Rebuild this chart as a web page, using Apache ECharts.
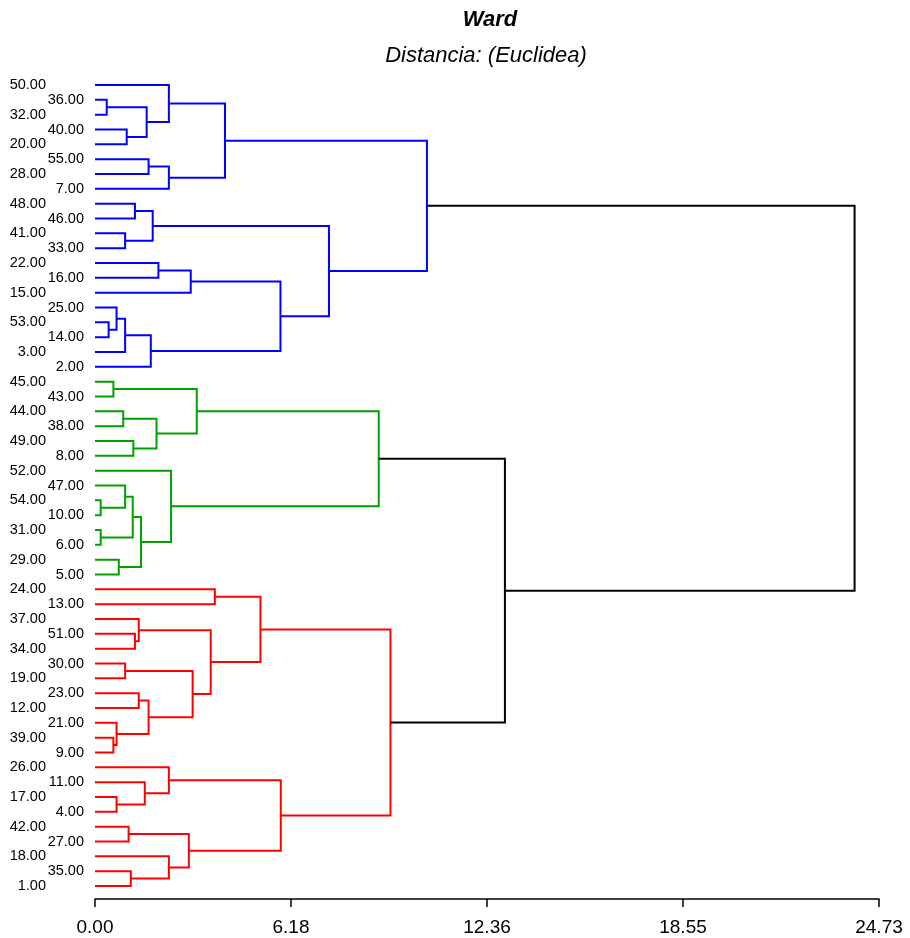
<!DOCTYPE html>
<html>
<head>
<meta charset="utf-8">
<script src="https://cdn.jsdelivr.net/npm/echarts@6/dist/echarts.min.js"></script>
<style>html,body{margin:0;padding:0;background:#fff}#chart{width:910px;height:938px}</style>
</head>
<body>
<div id="chart"></div>
<script>
// Leaves in display order (top to bottom)
const leaves = ['50.00','36.00','32.00','40.00','20.00','55.00','28.00','7.00','48.00','46.00',
  '41.00','33.00','22.00','16.00','15.00','25.00','53.00','14.00','3.00','2.00',
  '45.00','43.00','44.00','38.00','49.00','8.00','52.00','47.00','54.00','10.00',
  '31.00','6.00','29.00','5.00','24.00','13.00','37.00','51.00','34.00','30.00',
  '19.00','23.00','12.00','21.00','39.00','9.00','26.00','11.00','17.00','4.00',
  '42.00','27.00','18.00','35.00','1.00'];
// Linkage pairs: ids < 55 are leaves, id 55+k is merge k
const merges = [
  [1,2],[3,4],[55,56],[0,57],[5,6],[59,7],[58,60],[8,9],[10,11],[62,63],[12,13],[65,14],[16,17],[15,67],[68,18],[69,19],[66,70],[64,71],[61,72],
  [20,21],[22,23],[24,25],[75,76],[74,77],[28,29],[27,79],[30,31],[80,81],[32,33],[82,83],[26,84],[78,85],
  [34,35],[37,38],[36,88],[39,40],[41,42],[44,45],[43,92],[91,93],[90,94],[89,95],[87,96],[48,49],[47,98],[46,99],[50,51],[53,54],[52,102],[101,103],[100,104],[97,105],
  [86,106],[73,107]
];
// Merge heights (distance), same order as merges
const mergeH = [0.37,1.00,1.63,2.33,1.69,2.33,4.10,1.26,0.95,1.82,2.00,3.02,0.43,0.68,0.95,1.76,5.85,7.38,10.47,
  0.58,0.89,1.21,1.94,3.21,0.18,0.95,0.18,1.19,0.75,1.45,2.40,8.95,
  3.78,1.26,1.38,0.95,1.38,0.58,0.68,1.69,3.08,3.65,5.22,0.68,1.57,2.33,1.06,1.13,2.33,2.96,5.86,9.32,
  12.93,23.96];
const xTickLabels = ['0.00','6.18','12.36','18.55','24.73'];
const xMax = 24.73;
const groupColors = ['#0000ff','#00a000','#ff0000'];
const colorCut = 11;

const N = leaves.length;
const pos = [], hgt = [], parent = [];
for (let i = 0; i < N; i++) { pos[i] = i; hgt[i] = 0; }
merges.forEach((m, k) => {
  const id = N + k;
  pos[id] = (pos[m[0]] + pos[m[1]]) / 2;
  hgt[id] = mergeH[k];
  parent[m[0]] = id; parent[m[1]] = id;
});
const groupRoots = [];
merges.forEach((m, k) => {
  const id = N + k;
  if (hgt[id] < colorCut && (parent[id] === undefined || hgt[parent[id]] >= colorCut)) groupRoots.push(id);
});
groupRoots.sort((a, b) => pos[a] - pos[b]);
function colorOf(id) {
  if (hgt[id] >= colorCut) return '#000000';
  let c = id;
  while (parent[c] !== undefined && hgt[parent[c]] < colorCut) c = parent[c];
  return groupColors[groupRoots.indexOf(c) % groupColors.length];
}
const linkData = merges.map((m, k) => {
  const id = N + k, a = m[0], b = m[1];
  return {
    coords: [[hgt[a], pos[a]], [hgt[id], pos[a]], [hgt[id], pos[b]], [hgt[b], pos[b]]],
    lineStyle: { color: colorOf(id) }
  };
});

const FF = "'Liberation Sans', Arial, Helvetica, sans-serif";
const chart = echarts.init(document.getElementById('chart'), null, { renderer: 'canvas' });
const yBase = {
  type: 'value', inverse: true, min: 0, max: N - 1, interval: 1, position: 'left',
  axisLine: { show: false }, axisTick: { show: false }, splitLine: { show: false }
};
chart.setOption({
  animation: false,
  backgroundColor: '#ffffff',
  title: [
    { text: 'Ward', left: 485, top: 4, textAlign: 'center',
      textStyle: { fontFamily: FF, fontSize: 22, fontWeight: 'bold', fontStyle: 'italic', color: '#000' } },
    { text: 'Distancia: (Euclidea)', left: 481, top: 40, textAlign: 'center',
      textStyle: { fontFamily: FF, fontSize: 22, fontWeight: 'normal', fontStyle: 'italic', color: '#000' } }
  ],
  grid: { left: 95, right: 31, top: 85, bottom: 52, containLabel: false },
  xAxis: {
    type: 'value', min: 0, max: xMax, interval: xMax / 4, position: 'bottom', offset: 13,
    axisLine: { show: true, onZero: false, lineStyle: { color: '#000', width: 1.5 } },
    axisTick: { show: true, length: 8, inside: false, lineStyle: { color: '#000', width: 1.5 } },
    axisLabel: { fontFamily: FF, fontSize: 19, color: '#000', margin: 19, showMaxLabel: true, showMinLabel: true,
      formatter: v => xTickLabels[Math.round(v / (xMax / 4))] },
    splitLine: { show: false }
  },
  yAxis: [
    Object.assign({}, yBase, { axisLabel: { fontFamily: FF, fontSize: 14.5, color: '#000', margin: 11,
      formatter: v => (v % 2 === 1 ? leaves[v] : '') } }),
    Object.assign({}, yBase, { axisLabel: { fontFamily: FF, fontSize: 14.5, color: '#000', margin: 49,
      formatter: v => (v % 2 === 0 ? leaves[v] : '') } })
  ],
  series: [{
    type: 'lines', coordinateSystem: 'cartesian2d', xAxisIndex: 0, yAxisIndex: 0,
    polyline: true, clip: false, silent: true,
    lineStyle: { width: 2, opacity: 1 },
    data: linkData
  }]
});
</script>
</body>
</html>
